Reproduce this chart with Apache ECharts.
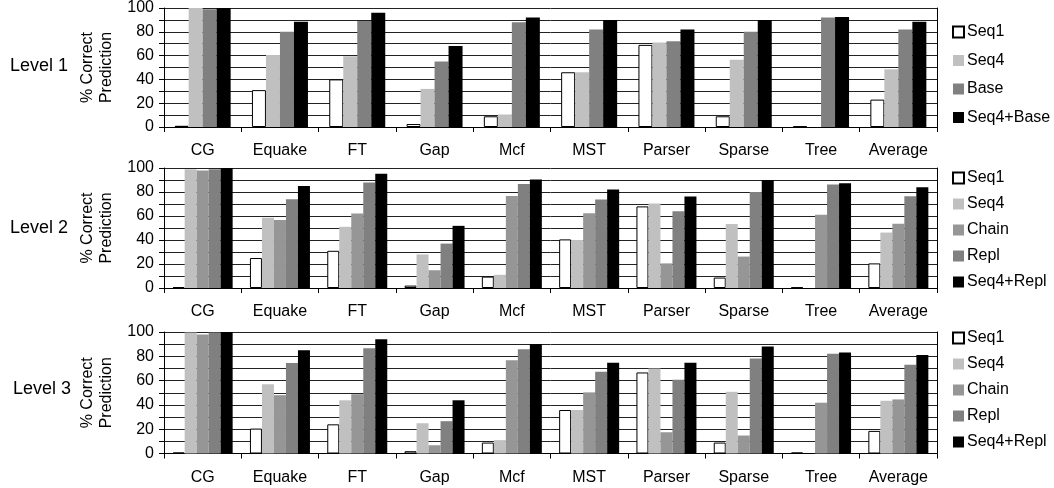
<!DOCTYPE html>
<html>
<head>
<meta charset="utf-8">
<script src="https://cdn.jsdelivr.net/npm/echarts@6/dist/echarts.min.js"></script>
<style>
  html, body { margin: 0; padding: 0; background: #fff; }
  #wrap { position: relative; width: 1054px; height: 488px; overflow: hidden; }
  .panel { position: absolute; left: 0; width: 1054px; }
</style>
</head>
<body>
<div id="wrap">
  <div id="p1" class="panel" style="top:0;height:160px"></div>
  <div id="p2" class="panel" style="top:160px;height:160px"></div>
  <div id="p3" class="panel" style="top:320px;height:168px"></div>
</div>
<script>
const categories = ["CG", "Equake", "FT", "Gap", "Mcf", "MST", "Parser", "Sparse", "Tree", "Average"];

// Level 1
const l1Seq1 = [1, 31, 40, 2.5, 9, 46, 69, 9, 0.5, 23];
const l1Seq4 = [100, 60.5, 59.5, 32, 10.5, 46, 71, 56.5, 0, 48.5];
const l1Base = [99, 80, 89, 55, 88, 82, 72, 80, 92, 82];
const l1Seq4Base = [100, 88.5, 96, 68, 92, 90, 82, 90, 92.5, 88.5];

// Level 2
const l2Seq1 = [0.8, 25, 31, 2, 9.5, 40.5, 68, 8.7, 0.5, 20.5];
const l2Seq4 = [99, 58.5, 51, 28, 11, 40, 70.5, 53.3, 0, 46.2];
const l2Chain = [98, 56.7, 62, 14.8, 76.7, 62.3, 20.5, 26.2, 61, 53.6];
const l2Repl = [99, 74, 88, 37, 86.6, 73.8, 64, 80, 86.3, 76.5];
const l2Seq4Repl = [100, 85, 95.3, 51.8, 90.4, 82, 76.2, 90, 87.2, 84];

// Level 3
const l3Seq1 = [0.8, 20.5, 24, 1.9, 9, 35.8, 66.7, 9, 0.8, 18.6];
const l3Seq4 = [99.5, 57, 43.8, 24.9, 11, 35.8, 70, 50.8, 0, 43.4];
const l3Chain = [98, 48, 48.8, 6.8, 76.7, 50.3, 17.5, 14.8, 41.8, 44.5];
const l3Repl = [99.5, 74.5, 86.6, 26.6, 85.8, 67.2, 60.7, 78.1, 82, 73];
const l3Seq4Repl = [100, 85, 94, 43.8, 90.1, 74.6, 74.6, 88, 83.1, 81.1];

const font = "'Liberation Sans', Arial, sans-serif";

const colors = {
  "Seq1": "#ffffff",
  "Seq4": "#c0c0c0",
  "Chain": "#969696",
  "Base": "#808080",
  "Repl": "#808080",
  "Seq4+Base": "#000000",
  "Seq4+Repl": "#000000",
};

// one chart instance per level; positions are relative to each panel div
const panels = [
  {
    el: "p1", label: "Level 1", labelLeft: 10, labelTop: 57,
    names: ["Seq1", "Seq4", "Base", "Seq4+Base"],
    data: [l1Seq1, l1Seq4, l1Base, l1Seq4Base],
    top: 5, height: 122, barWidth: 14,
    legendTop: 24, legendGap: 12.5,
  },
  {
    el: "p2", label: "Level 2", labelLeft: 10, labelTop: 59,
    names: ["Seq1", "Seq4", "Chain", "Repl", "Seq4+Repl"],
    data: [l2Seq1, l2Seq4, l2Chain, l2Repl, l2Seq4Repl],
    top: 8, height: 122, barWidth: 12,
    legendTop: 10, legendGap: 10,
  },
  {
    el: "p3", label: "Level 3", labelLeft: 13, labelTop: 60,
    names: ["Seq1", "Seq4", "Chain", "Repl", "Seq4+Repl"],
    data: [l3Seq1, l3Seq4, l3Chain, l3Repl, l3Seq4Repl],
    top: 12, height: 121.5, barWidth: 12,
    legendTop: 10, legendGap: 10,
  },
];

panels.forEach((p) => {
  const chart = echarts.init(document.getElementById(p.el));

  const option = {
    animation: false,
    title: {
      text: p.label,
      left: p.labelLeft,
      top: p.labelTop,
      padding: 0,
      textStyle: { fontSize: 18, fontWeight: "normal", color: "#000", fontFamily: font },
    },
    grid: {
      left: 164,
      top: p.top,
      width: 773,
      height: p.height,
    },
    xAxis: {
      type: "category",
      data: categories,
      axisLine: { lineStyle: { color: "#000", width: 1 } },
      axisTick: { show: true, interval: 0, length: 5, lineStyle: { color: "#000" } },
      axisLabel: { interval: 0, fontSize: 16, color: "#000", margin: 16, fontFamily: font },
    },
    yAxis: [
      {
        type: "value",
        min: 0,
        max: 100,
        interval: 20,
        name: "% Correct\nPrediction",
        nameLocation: "middle",
        nameRotate: 90,
        nameGap: 41,
        nameTextStyle: { fontSize: 16, lineHeight: 19, color: "#000", fontFamily: font },
        axisLine: { show: true, lineStyle: { color: "#000", width: 1 } },
        axisTick: { show: true, length: 5, lineStyle: { color: "#000" } },
        minorTick: { show: true, splitNumber: 2, length: 5, lineStyle: { color: "#000" } },
        splitLine: { show: true, lineStyle: { color: "#222", width: 1 } },
        minorSplitLine: { show: true, lineStyle: { color: "#222", width: 1 } },
        axisLabel: { fontSize: 16, color: "#000", margin: 10, fontFamily: font },
      },
      {
        // right-hand frame line
        type: "value",
        position: "right",
        min: 0,
        max: 100,
        interval: 20,
        axisLine: { show: true, lineStyle: { color: "#000", width: 1 } },
        axisTick: { show: false },
        axisLabel: { show: false },
        splitLine: { show: false },
      },
    ],
    legend: {
      orient: "vertical",
      left: 952,
      top: p.legendTop,
      padding: 0,
      itemWidth: 11,
      itemHeight: 11,
      itemGap: p.legendGap,
      icon: "rect",
      selectedMode: false,
      data: p.names,
      textStyle: { fontSize: 16, lineHeight: 16, color: "#000", fontFamily: font, padding: [0, 0, 0, -2] },
    },
    series: p.names.map((name, k) => ({
      name: name,
      type: "bar",
      data: p.data[k],
      barWidth: p.barWidth,
      barGap: "0%",
      itemStyle: {
        color: colors[name],
        borderColor: name === "Seq1" ? "#000" : colors[name],
        borderWidth: name === "Seq1" ? 1 : 0,
      },
    })),
  };

  chart.setOption(option);
});
</script>
</body>
</html>
